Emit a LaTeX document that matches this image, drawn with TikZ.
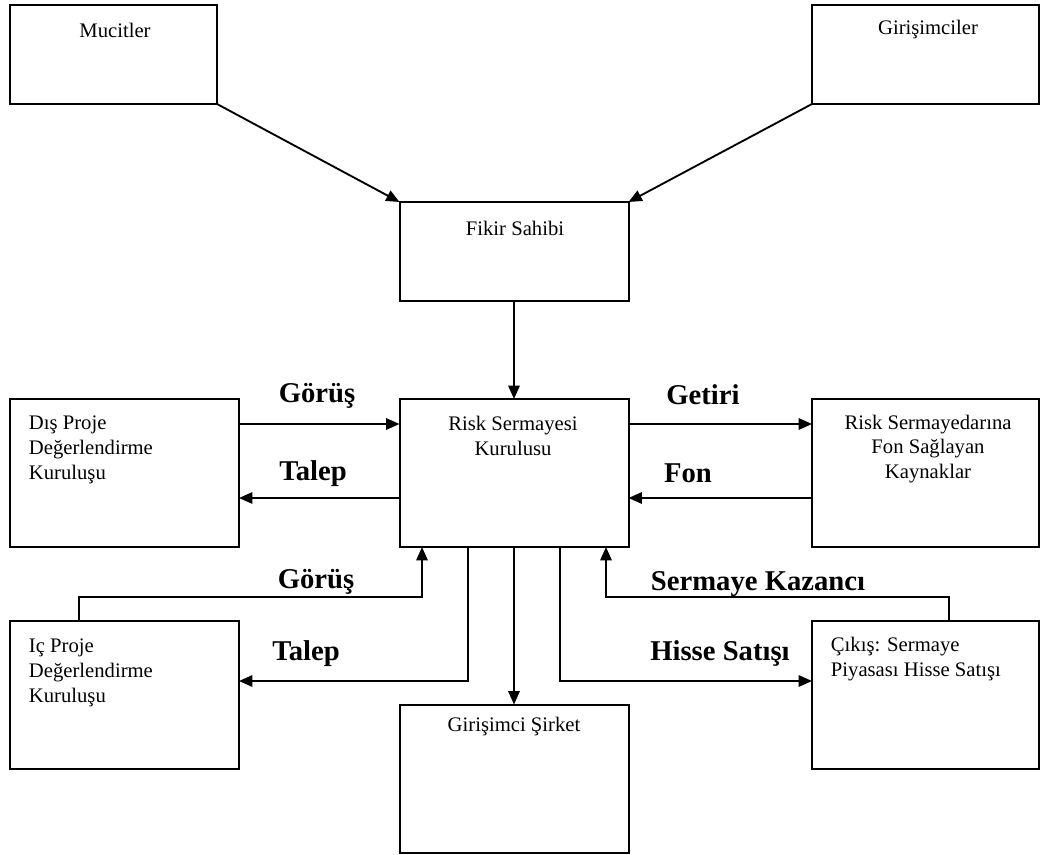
\documentclass[tikz,border=0pt]{standalone}
\usepackage{fontspec}
\setmainfont{Liberation Serif}
\usetikzlibrary{arrows.meta}
\usetikzlibrary{calc}

\begin{document}
\begin{tikzpicture}[x=0.75pt, y=-0.75pt,
    >={Triangle[length=10pt, width=8.5pt]},
    box/.style={draw, line width=1.5pt, inner sep=0pt, outer sep=0pt},
    txt/.style={inner sep=0pt, font=\fontsize{15.5}{18.5}\selectfont},
    lbl/.style={inner sep=0pt, font=\fontsize{21.5}{24}\selectfont\bfseries},
    every path/.append style={line width=1.4pt}]

    \useasboundingbox (0,0) rectangle (1041,855);

    % kutular
    \node [box, minimum width=155.25pt, minimum height=74.25pt] (muc) at (113.5, 54.5) {};
    \node [box, minimum width=170.25pt, minimum height=74.25pt] (gir) at (925.5, 54.5) {};
    \node [box, minimum width=171.75pt, minimum height=74.25pt] (fik) at (514, 251.5) {};
    \node [box, minimum width=171.75pt, minimum height=111pt] (dis) at (124.5, 473) {};
    \node [box, minimum width=171.75pt, minimum height=111pt] (rsk) at (514, 473) {};
    \node [box, minimum width=170.25pt, minimum height=111pt] (fon) at (925.5, 473) {};
    \node [box, minimum width=171.75pt, minimum height=111pt] (ic) at (124.5, 695) {};
    \node [box, minimum width=171.75pt, minimum height=111pt] (sir) at (514, 778.5) {};
    \node [box, minimum width=170.25pt, minimum height=111pt] (cik) at (925.5, 695) {};

    % kutu yazilari
    \node [txt] (mucT) at (115, 30) {Mucitler};
    \node [txt] (girT) at (928, 30) {Girişimciler};
    \node [txt] (fikT) at (515, 228) {Fikir Sahibi};
    \node [txt, align=center] (rskT) at (513, 436)
    {Risk Sermayesi\\Kurulusu};
    \node [txt, align=left, anchor=west] (disT) at (28, 450)
    {Dış Proje\\Değerlendirme\\Kuruluşu};
    \node [txt, align=center] (fonT) at (928, 449)
    {Risk Sermayedarına\\Fon Sağlayan\\Kaynaklar};
    \node [txt, align=left, anchor=west] (icT) at (28, 673)
    {Iç Proje\\Değerlendirme\\Kuruluşu};
    \node [txt] (sirT) at (514, 727) {Girişimci Şirket};
    \node [txt, align=left, anchor=west] (cikT) at (830, 659)
    {Çıkış: Sermaye\\Piyasası Hisse Satışı};

    % ok etiketleri
    \node [lbl] (gor1) at (317, 396) {Görüş};
    \node [lbl] (tal1) at (313, 474) {Talep};
    \node [lbl] (get) at (703, 395) {Getiri};
    \node [lbl] (fonL) at (688, 473) {Fon};
    \node [lbl] (gor2) at (316, 582) {Görüş};
    \node [lbl] (tal2) at (306, 654) {Talep};
    \node [lbl] (kaz) at (758, 584) {Sermaye Kazancı};
    \node [lbl] (his) at (720, 654) {Hisse Satışı};

    % yardimci satir ve sutunlar
    \coordinate (r1) at (0, 424);
    \coordinate (r2) at (0, 498);
    \coordinate (r3) at (0, 597);
    \coordinate (r4) at (0, 681);
    \coordinate (c1) at (79, 0);
    \coordinate (c2) at (422, 0);
    \coordinate (c3) at (468, 0);
    \coordinate (c4) at (560, 0);
    \coordinate (c5) at (606, 0);
    \coordinate (c6) at (949, 0);

    % oklar
    \draw [->] (muc.south east) -- (fik.north west);
    \draw [->] (gir.south west) -- (fik.north east);
    \draw [->] (fik.south) -- (rsk.north);

    \draw [->] (dis.east |- r1) -- (rsk.west |- r1);
    \draw [->] (rsk.west |- r2) -- (dis.east |- r2);
    \draw [->] (rsk.east |- r1) -- (fon.west |- r1);
    \draw [->] (fon.west |- r2) -- (rsk.east |- r2);

    \draw [->] (ic.north -| c1) |- (c2 |- r3) -- (rsk.south -| c2);
    \draw [->] (rsk.south -| c3) |- (ic.east |- r4);
    \draw [->] (rsk.south) -- (sir.north);
    \draw [->] (rsk.south -| c4) |- (cik.west |- r4);
    \draw [->] (cik.north -| c6) |- (c5 |- r3) -- (rsk.south -| c5);

\end{tikzpicture}
\end{document}
